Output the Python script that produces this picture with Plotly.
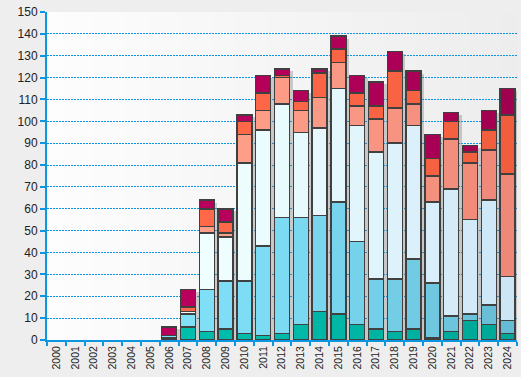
import plotly.graph_objects as go

years = [str(y) for y in range(2000, 2025)]
s1 = [0, 0, 0, 0, 0, 0, 1, 6, 4, 5, 3, 2, 3, 7, 13, 12, 7, 5, 4, 5, 1, 4, 9, 7, 3]
s2 = [0, 0, 0, 0, 0, 0, 1, 6, 19, 22, 24, 41, 53, 49, 44, 51, 38, 23, 24, 32, 25, 7, 3, 9, 6]
s3 = [0, 0, 0, 0, 0, 0, 0, 1, 26, 20, 54, 53, 52, 39, 40, 52, 53, 58, 62, 61, 37, 58, 43, 48, 20]
s4 = [0, 0, 0, 0, 0, 0, 0, 0, 3, 2, 13, 9, 12, 10, 14, 12, 9, 15, 16, 10, 12, 23, 26, 23, 47]
s5 = [0, 0, 0, 0, 0, 0, 0, 2, 8, 5, 6, 8, 1, 4, 11, 6, 6, 6, 17, 6, 8, 8, 5, 9, 27]
s6 = [0, 0, 0, 0, 0, 0, 4, 8, 4, 6, 3, 8, 3, 5, 2, 6, 8, 11, 9, 9, 11, 4, 3, 9, 12]
series = [s1, s2, s3, s4, s5, s6]

# style: colour ramps (left -> right) for each stack level
ramps = [
    ((0, 190, 172), (0, 166, 152)),
    ((128, 224, 248), (102, 188, 212)),
    ((240, 255, 255), (204, 230, 246)),
    ((255, 160, 138), (238, 136, 120)),
    ((255, 104, 72), (240, 94, 62)),
    ((184, 0, 92), (160, 0, 80)),
]


def ramp(c0, c1, n):
    out = []
    for i in range(n):
        t = max(0.0, (i - 6) / (n - 7)) ** 1.6
        c = [round(a + (b - a) * t) for a, b in zip(c0, c1)]
        out.append("rgb(%d,%d,%d)" % tuple(c))
    return out


blue = "#0a96e0"
fig = go.Figure()

# shadow bars (base axes, shifted)
totals = [sum(v) for v in zip(*series)]
fig.add_trace(go.Bar(
    x=years, y=[t if t else None for t in totals], xaxis="x", yaxis="y",
    width=0.8, marker=dict(color="rgba(120,120,120,0.35)", line=dict(width=0)),
    hoverinfo="skip", showlegend=False,
))

for s, (c0, c1) in zip(series, ramps):
    fig.add_trace(go.Bar(
        x=years, y=[v if v else None for v in s], xaxis="x2", yaxis="y2",
        width=0.8,
        marker=dict(color=ramp(c0, c1, len(years)), line=dict(color="#404040", width=1.5)),
        showlegend=False,
    ))

# background gradient strips
shapes = []
n = 60
for i in range(n):
    t = i / (n - 1)
    g = round(253 + (237 - 253) * t)
    shapes.append(dict(
        type="rect", xref="paper", yref="paper", x0=i / n, x1=(i + 1) / n + 0.002,
        y0=0, y1=1, fillcolor="rgb(%d,%d,%d)" % (g, g, g), line=dict(width=0), layer="below",
    ))

d = 3 / 18.8
e = 2.5 / 2.187
fig.update_layout(
    width=521, height=377,
    margin=dict(l=47, r=4, t=12, b=37),
    paper_bgcolor="#eeeeee", plot_bgcolor="rgba(0,0,0,0)",
    barmode="stack", bargap=0.2,
    font=dict(family="Liberation Sans, Arial, sans-serif", color="#222222", size=11),
    shapes=shapes,
    xaxis=dict(type="category", range=[-0.5 - d, 24.5 - d], showticklabels=False,
               showgrid=False, showline=False, zeroline=False, ticks="", automargin=False),
    yaxis=dict(range=[e, 150 + e], showticklabels=False, showgrid=False,
               showline=False, zeroline=False, ticks="", automargin=False),
    xaxis2=dict(type="category", overlaying="x", anchor="y2", side="bottom",
                range=[-0.5, 24.5], tickangle=-90, ticks="outside", tickson="boundaries",
                ticklen=4, tickcolor=blue, tickwidth=1.5, showline=True, linecolor=blue,
                linewidth=2, showgrid=False, zeroline=False, automargin=False,
                tickfont=dict(size=10.5, color="#222222")),
    yaxis2=dict(overlaying="y", anchor="x2", side="left", range=[0, 150], dtick=10,
                ticks="outside", ticklen=5, tickcolor=blue, tickwidth=1.5,
                showline=True, linecolor=blue, linewidth=2, zeroline=False,
                showgrid=True, gridcolor=blue, gridwidth=1, griddash="2px,1px",
                automargin=False, tickfont=dict(size=12, color="#222222")),
)

fig.write_html(
    "out.html",
    config={"displayModeBar": False},
    post_script="document.body.style.margin='0';document.body.style.background='#eeeeee';",
)
